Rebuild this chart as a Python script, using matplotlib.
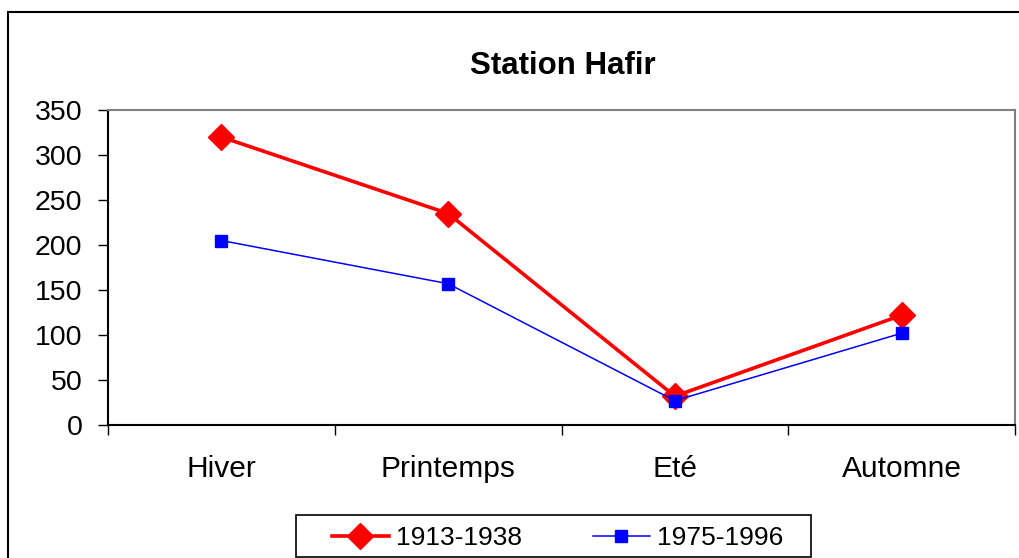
import matplotlib

matplotlib.use("Agg")
import matplotlib.pyplot as plt
from matplotlib.patches import Rectangle

plt.rcParams["font.family"] = ["Liberation Sans", "DejaVu Sans"]

saisons = ["Hiver", "Printemps", "Eté", "Automne"]
p_1913_1938 = [320, 235, 32, 122]
p_1975_1996 = [205, 157, 27, 102]

W, H = 1019, 558
fig = plt.figure(figsize=(W / 100, H / 100), dpi=100)
ax = fig.add_axes([108 / W, 1 - 425 / H, (1015 - 108) / W, (425 - 110) / H])

# outer chart frame (cut off on the right and bottom)
fig.patches.append(Rectangle((8 / W, -0.1), 1.2, 1 - 12 / H + 0.1,
                             transform=fig.transFigure, fill=False,
                             edgecolor="black", linewidth=1.5))
# legend frame
fig.patches.append(Rectangle((296 / W, 1 - 557 / H), (811 - 296) / W, (557 - 515) / H,
                             transform=fig.transFigure, fill=False,
                             edgecolor="black", linewidth=1.2))

x = range(len(saisons))
ax.plot(x, p_1913_1938, color="#ff0000", linewidth=2.6, marker="D", markersize=13.5,
        label="1913-1938")
ax.plot(x, p_1975_1996, color="#0000ff", linewidth=1.1, marker="s", markersize=8.5,
        label="1975-1996")

ax.set_xlim(-0.5, 3.5)
ax.set_ylim(0, 350)
ax.set_yticks(range(0, 351, 50))
ax.set_xticks(list(x))
ax.set_xticklabels(saisons)
ax.set_xticks([-0.5, 0.5, 1.5, 2.5, 3.5], minor=True)

ax.tick_params(axis="y", direction="out", length=7.5, width=1, labelsize=20.5, pad=11)
ax.tick_params(axis="x", which="major", length=0, labelsize=21.5, pad=21.5)
ax.tick_params(axis="x", which="minor", direction="out", length=7, width=1)

for side in ("top", "right"):
    ax.spines[side].set_color("#808080")
    ax.spines[side].set_linewidth(1.5)
for side in ("left", "bottom"):
    ax.spines[side].set_color("black")
    ax.spines[side].set_linewidth(1.5)

fig.text(563 / W, 1 - 66 / H, "Station Hafir", fontsize=22.5, fontweight="bold",
         ha="center", va="center")

leg = fig.legend(loc="center left", bbox_to_anchor=(324 / W, 1 - 538 / H),
                 ncol=2, fontsize=19, frameon=False,
                 handlelength=2.15, handletextpad=0.27, columnspacing=2.7,
                 borderpad=0.3, borderaxespad=0)

fig.savefig("out.png", dpi=100)
